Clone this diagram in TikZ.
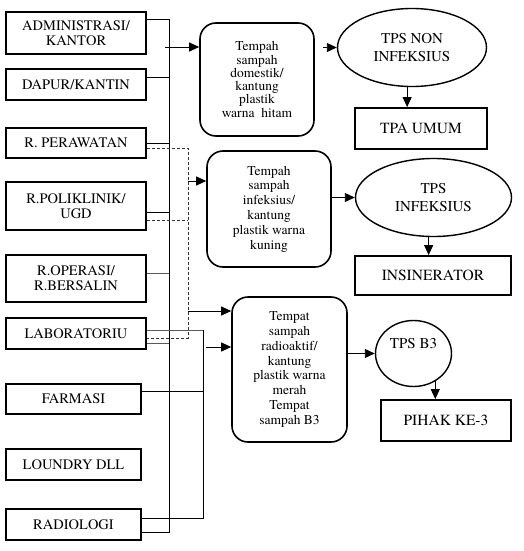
\documentclass[tikz,border=0pt]{standalone}
\usepackage{fontspec}
\setmainfont{TeX Gyre Termes}
\usetikzlibrary{shapes.geometric,arrows.meta}

\begin{document}
\begin{tikzpicture}[x=1pt,y=-1pt,
  unit/.style={draw,line width=1.8pt,align=center,inner sep=0pt,minimum width=140pt,font=\fontsize{14.5}{15}\selectfont},
  bin/.style={draw,line width=1.6pt,rounded corners=16pt,align=center,inner sep=0pt,font=\fontsize{13.5}{14.8}\selectfont},
  tps/.style={draw,ellipse,line width=1.4pt,align=center,inner sep=0pt,font=\fontsize{15}{18}\selectfont},
  final/.style={draw,line width=1.8pt,inner sep=0pt,font=\fontsize{15.5}{18}\selectfont},
  conn/.style={line width=0.9pt},
  arr/.style={line width=0.9pt,-{Triangle[length=10pt,width=9pt]}}]

\useasboundingbox (0,0) rectangle (523,551);

% Sources
\node[unit,minimum height=42pt] (admin) at (76,33) {ADMINISTRASI/\\KANTOR};
\node[unit,minimum height=31pt] (dapur) at (76,84.5) {DAPUR/KANTIN};
\node[unit,minimum height=30pt] (rawat) at (76,143) {R. PERAWATAN};
\node[unit,minimum height=48pt] (poli) at (76,206) {R.POLIKLINIK/\\UGD};
\node[unit,minimum height=47pt] (operasi) at (76,278.5) {R.OPERASI/\\R.BERSALIN};
\node[unit,minimum height=31pt] (lab) at (76,333.5) {LABORATORIU};
\node[unit,minimum width=135pt,minimum height=30pt] (farmasi) at (73.5,399) {FARMASI};
\node[unit,minimum width=135pt,minimum height=31pt] (loundry) at (73.5,464.5) {LOUNDRY DLL};
\node[unit,minimum width=135pt,minimum height=31pt] (radio) at (73.5,524.5) {RADIOLOGI};

% Bins
\node[bin,minimum width=114pt,minimum height=113pt,font=\fontsize{13.5}{13.3}\selectfont] (domestik) at (257,79.5)
  {Tempah\\sampah\\domestik/\\kantung\\plastik\\warna~~hitam};
\node[bin,minimum width=124pt,minimum height=116pt] (infeksius) at (269,209)
  {Tempah\\sampah\\infeksius/\\kantung\\plastik warna\\kuning};
\node[bin,minimum width=115pt,minimum height=145pt] (b3) at (289.5,369.5)
  {Tempat\\sampah\\radioaktif/\\kantung\\plastik warna\\merah\\Tempat\\sampah B3};

% TPS
\node[tps,minimum width=149pt,minimum height=78pt] (tpsnon) at (412,47.5) {TPS NON\\INFEKSIUS};
\node[tps,minimum width=156pt,minimum height=78pt] (tpsinf) at (433.5,197.5) {TPS\\INFEKSIUS};
\node[tps,minimum width=76pt,minimum height=66pt,text height=10pt,text depth=20pt] (tpsb3) at (413.5,353.5) {TPS B3};

% Final
\node[final,minimum width=132pt,minimum height=41pt] (tpa) at (421,128.5) {TPA UMUM};
\node[final,minimum width=156pt,minimum height=39pt] (insin) at (433,275.5) {INSINERATOR};
\node[final,minimum width=130pt,minimum height=41pt] (pihak) at (446,420.5) {PIHAK KE-3};

% Main collecting line
\coordinate (busTop) at (169,19);
\coordinate (busBot) at (169,532);
\draw[conn] (admin.east |- busTop) -- (busTop) -- (busBot) -- (radio.east |- busBot);
\foreach \n/\y/\c in {dapur/77/black,rawat/143/black,poli/212/black,operasi/273/black!65,lab/343/black!65}{
  \coordinate (j\n) at (169,\y);
  \draw[conn,\c] (\n.east |- j\n) -- (j\n);
}

% Infectious line
\coordinate (dTop) at (188,148);
\coordinate (dBot) at (188,338);
\coordinate (dPoli) at (188,220);
\draw[conn,black!80,dash pattern=on 3pt off 2pt] (rawat.east |- dTop) -- (dTop) -- (dBot) -- (lab.east |- dBot);
\draw[conn,black!80,dash pattern=on 3pt off 2pt] (poli.east |- dPoli) -- (dPoli);

% B3 line
\coordinate (sTop) at (203,330);
\coordinate (sBot) at (203,518);
\coordinate (sFar) at (203,391);
\draw[conn,black!65] (lab.east |- sTop) -- (sTop);
\draw[conn] (sTop) -- (sBot) -- (radio.east |- sBot);
\draw[conn] (farmasi.east |- sFar) -- (sFar);

% Arrows to bins
\coordinate (aDom) at (165,47);
\coordinate (aInf) at (188,181);
\coordinate (aB3a) at (188,311);
\coordinate (aB3b) at (206,347);
\draw[arr] (aDom) -- (domestik.west |- aDom);
\draw[arr] (aInf) -- (infeksius.west |- aInf);
\draw[arr] (aB3a) -- (b3.west |- aB3a);
\draw[arr] (aB3b) -- (b3.west |- aB3b);

% Bins to TPS
\draw[arr,shorten <=8pt] (domestik.east |- tpsnon.west) -- (tpsnon.west);
\draw[arr] (infeksius.east |- tpsinf.west) -- (tpsinf.west);
\draw[arr] (b3.east |- tpsb3.west) -- (tpsb3.west);

% TPS to final
\draw[arr] (tpsnon.-97) -- (tpsnon.-97 |- tpa.north);
\draw[arr] (tpsinf.-97) -- (tpsinf.-97 |- insin.north);
\draw[arr] (tpsb3.-52) -- (tpsb3.-52 |- pihak.north);

\end{tikzpicture}
\end{document}
